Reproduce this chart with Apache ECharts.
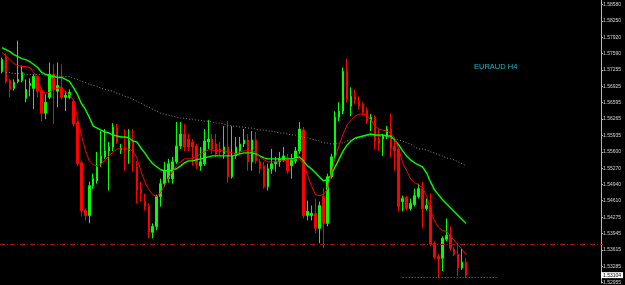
<!DOCTYPE html>
<html>
<head>
<meta charset="utf-8">
<script src="https://cdn.jsdelivr.net/npm/echarts@6.0.0/dist/echarts.min.js"></script>
<style>
html,body{margin:0;padding:0;background:#000;}
#chart{width:625px;height:285px;}
</style>
</head>
<body>
<div id="chart"></div>
<script>
// ---- data (EURAUD H4) ----
const symbolTitle = 'EURAUD H4';
const openP = [
1.57227,1.57528,1.57046,1.56885,1.57026,1.57046,1.56684,1.56945,1.56885,1.57126,
1.56845,1.56383,1.56704,1.57167,1.56825,1.56905,1.56704,1.56704,1.56624,1.56182,
1.55378,1.54413,1.54312,1.54915,1.55016,1.55358,1.55498,1.55619,1.55699,1.56081,
1.55639,1.55679,1.55619,1.55800,1.55297,1.54855,1.54594,1.54493,1.53971,1.54091,
1.54694,1.54956,1.55056,1.55056,1.55398,1.55719,1.55961,1.55860,1.55800,1.55719,
1.55317,1.55358,1.55800,1.55860,1.55760,1.55659,1.55559,1.55699,1.55096,1.55518,
1.55619,1.55760,1.55840,1.55398,1.55840,1.55398,1.55317,1.54895,1.55257,1.55358,
1.55398,1.55438,1.55478,1.55317,1.55418,1.55619,1.56041,1.54312,1.54312,1.54353,
1.54051,1.54694,1.54152,1.55096,1.55498,1.56302,1.56423,1.57227,1.56523,1.56724,
1.56624,1.56564,1.56443,1.56202,1.56302,1.55860,1.55860,1.55920,1.56061,1.55719,
1.55659,1.54594,1.54674,1.54453,1.54533,1.54694,1.54855,1.54453,1.54493,1.53750,
1.53488,1.53448,1.53830,1.53910,1.53629,1.53528,1.53247,1.53368];
const closeP = [
1.57468,1.57026,1.56865,1.57006,1.57066,1.57207,1.56865,1.56986,1.57126,1.56825,
1.56383,1.56604,1.57167,1.56865,1.56945,1.56704,1.56744,1.56805,1.56162,1.55358,
1.54413,1.54312,1.54915,1.55056,1.55297,1.55518,1.55619,1.55699,1.56101,1.55800,
1.55679,1.55639,1.55820,1.55559,1.54815,1.54755,1.54493,1.53971,1.54091,1.54694,
1.54956,1.55217,1.55358,1.55398,1.55719,1.55961,1.55699,1.55699,1.55699,1.55358,
1.55398,1.55820,1.55860,1.55659,1.55559,1.55599,1.55699,1.55096,1.55518,1.55699,
1.55760,1.55840,1.55398,1.55840,1.55418,1.55257,1.54895,1.55257,1.55358,1.55398,
1.55458,1.55518,1.55217,1.55458,1.55619,1.56061,1.54312,1.54393,1.54353,1.54051,
1.54513,1.54152,1.55096,1.55498,1.56302,1.56423,1.57227,1.56664,1.56724,1.56664,
1.56523,1.56403,1.56222,1.56302,1.55820,1.55760,1.55920,1.56061,1.55679,1.55619,
1.54493,1.54654,1.54453,1.54554,1.54714,1.54855,1.54453,1.54513,1.53729,1.53468,
1.53428,1.53850,1.53910,1.53649,1.53528,1.53247,1.53368,1.53104];
const highP = [
1.57508,1.57589,1.57066,1.57066,1.57850,1.57347,1.57066,1.57086,1.57167,1.57146,
1.56885,1.56765,1.57408,1.57368,1.57408,1.57368,1.56825,1.56865,1.56664,1.56222,
1.55418,1.54453,1.54996,1.55157,1.55599,1.56021,1.56061,1.55800,1.56182,1.56162,
1.55760,1.56061,1.56061,1.56061,1.55418,1.54996,1.54755,1.54554,1.54152,1.54734,
1.55056,1.55398,1.55458,1.55498,1.56202,1.56202,1.56162,1.55961,1.55860,1.55760,
1.55699,1.56061,1.56242,1.55961,1.55961,1.55800,1.56121,1.56222,1.56121,1.55900,
1.55900,1.56061,1.55961,1.56021,1.56001,1.55458,1.55398,1.55358,1.55659,1.55498,
1.55599,1.55699,1.55559,1.55559,1.55699,1.56202,1.56101,1.54614,1.54513,1.54654,
1.54594,1.54875,1.55157,1.55559,1.56423,1.56604,1.57307,1.57488,1.56905,1.56865,
1.56724,1.56604,1.56503,1.56363,1.56342,1.56061,1.55961,1.56121,1.56383,1.55860,
1.55699,1.54714,1.54714,1.54654,1.54855,1.54956,1.54996,1.54654,1.54755,1.53790,
1.53528,1.53890,1.54252,1.54091,1.53669,1.53750,1.53649,1.53448];
const lowP = [
1.57187,1.56986,1.56704,1.56845,1.56986,1.57006,1.56604,1.56724,1.56463,1.56704,
1.56222,1.56262,1.56664,1.56162,1.56503,1.56664,1.56423,1.56664,1.56121,1.55317,
1.54292,1.54212,1.54152,1.54855,1.54956,1.55297,1.55458,1.54815,1.55619,1.55760,
1.55559,1.55217,1.55358,1.55197,1.54554,1.54594,1.54413,1.53850,1.53850,1.54011,
1.54493,1.54895,1.54976,1.54956,1.55358,1.55659,1.55619,1.55619,1.55317,1.55257,
1.55217,1.55317,1.55659,1.55559,1.55498,1.55518,1.55458,1.54976,1.55056,1.55458,
1.55559,1.55699,1.55217,1.55217,1.55358,1.55157,1.54855,1.54815,1.55157,1.55197,
1.55297,1.55398,1.55157,1.55056,1.55358,1.55559,1.54252,1.54212,1.54212,1.53951,
1.53750,1.53649,1.54091,1.55056,1.55458,1.56222,1.56363,1.56604,1.56322,1.56564,
1.56463,1.56342,1.56162,1.56021,1.55659,1.55619,1.55518,1.55860,1.55498,1.55217,
1.54393,1.54393,1.54413,1.54413,1.54493,1.54654,1.54051,1.54413,1.53689,1.53428,
1.53046,1.53187,1.53790,1.53609,1.53488,1.53086,1.53207,1.53046];
const maFast = [
1.57609,1.57548,1.57468,1.57388,1.57347,1.57327,1.57327,1.57307,1.57207,1.57066,
1.56845,1.56785,1.56805,1.56865,1.56885,1.56905,1.56805,1.56765,1.56644,1.56302,
1.55940,1.55639,1.55418,1.55337,1.55317,1.55358,1.55438,1.55518,1.55599,1.55659,
1.55659,1.55659,1.55659,1.55619,1.55478,1.55217,1.54996,1.54835,1.54734,1.54694,
1.54775,1.54915,1.55076,1.55197,1.55317,1.55398,1.55458,1.55458,1.55478,1.55498,
1.55559,1.55599,1.55639,1.55639,1.55619,1.55619,1.55619,1.55599,1.55579,1.55559,
1.55599,1.55619,1.55619,1.55619,1.55599,1.55498,1.55438,1.55398,1.55398,1.55398,
1.55418,1.55418,1.55438,1.55438,1.55458,1.55458,1.55358,1.55136,1.54915,1.54734,
1.54714,1.54734,1.54835,1.55157,1.55478,1.55739,1.55961,1.56141,1.56242,1.56322,
1.56363,1.56363,1.56342,1.56242,1.56121,1.56061,1.56041,1.56021,1.55981,1.55880,
1.55659,1.55378,1.55217,1.55056,1.54976,1.54935,1.54875,1.54714,1.54413,1.54212,
1.54071,1.54011,1.53991,1.53910,1.53810,1.53709,1.53629,1.53508];
const maMid = [
1.57709,1.57669,1.57629,1.57569,1.57528,1.57488,1.57468,1.57428,1.57368,1.57307,
1.57207,1.57167,1.57146,1.57126,1.57106,1.57106,1.57066,1.57026,1.56905,1.56765,
1.56584,1.56463,1.56302,1.56121,1.56081,1.56041,1.56001,1.55981,1.55940,1.55920,
1.55900,1.55900,1.55880,1.55820,1.55800,1.55679,1.55579,1.55458,1.55358,1.55297,
1.55237,1.55217,1.55217,1.55237,1.55257,1.55317,1.55378,1.55418,1.55418,1.55438,
1.55458,1.55478,1.55498,1.55518,1.55518,1.55518,1.55518,1.55518,1.55518,1.55538,
1.55559,1.55579,1.55579,1.55579,1.55559,1.55518,1.55478,1.55458,1.55458,1.55458,
1.55458,1.55458,1.55458,1.55458,1.55478,1.55498,1.55418,1.55317,1.55257,1.55177,
1.55096,1.55016,1.55036,1.55136,1.55297,1.55458,1.55619,1.55739,1.55820,1.55880,
1.55900,1.55920,1.55940,1.55961,1.55940,1.55940,1.55940,1.55920,1.55920,1.55840,
1.55739,1.55619,1.55518,1.55438,1.55378,1.55337,1.55297,1.55177,1.54996,1.54835,
1.54734,1.54634,1.54554,1.54473,1.54393,1.54312,1.54232,1.54152];
const maSlow = [
null,1.57207,1.57207,1.57187,1.57187,1.57187,1.57167,1.57167,1.57167,1.57167,
1.57167,1.57146,1.57146,1.57146,1.57146,1.57126,1.57126,1.57126,1.57086,1.57066,
1.57026,1.57006,1.56966,1.56945,1.56925,1.56885,1.56865,1.56845,1.56825,1.56785,
1.56765,1.56724,1.56704,1.56664,1.56624,1.56584,1.56543,1.56503,1.56463,1.56423,
1.56383,1.56363,1.56342,1.56322,1.56302,1.56282,1.56282,1.56262,1.56262,1.56242,
1.56242,1.56222,1.56222,1.56202,1.56182,1.56182,1.56162,1.56141,1.56121,1.56121,
1.56101,1.56101,1.56081,1.56081,1.56061,1.56041,1.56041,1.56021,1.56021,1.56001,
1.55981,1.55981,1.55961,1.55940,1.55940,1.55920,1.55900,1.55880,1.55860,1.55840,
1.55820,1.55780,1.55780,1.55760,1.55760,1.55780,1.55780,1.55820,1.55840,1.55860,
1.55880,1.55900,1.55920,1.55920,1.55920,1.55920,1.55900,1.55900,1.55880,1.55860,
1.55840,1.55820,1.55780,1.55760,1.55699,1.55659,1.55659,1.55639,1.55599,1.55579,
1.55538,1.55518,1.55478,1.55458,1.55438,1.55398,1.55358,1.55317];
const priceTicks = [1.58580,1.58250,1.57920,1.57590,1.57255,1.56925,1.56595,1.56265,1.55935,
  1.55600,1.55270,1.54940,1.54610,1.54275,1.53945,1.53615,1.53285,1.52955];
const levelPrice = 1.53732;   // dash-dot horizontal level
const lastPrice = 1.53104;    // current price box
const bidPrice = 1.53066;     // short dotted line
const bidFrom = 101, bidTo = 125;
const yMax = 1.58674, yMin = 1.529455;
const slotCount = 152;        // candle slots incl. right shift

// ---- chart ----
const slots = Array.from({length: slotCount}, (_, i) => i);
const candles = openP.map((o, i) => [o, closeP[i], lowP[i], highP[i]]);

const chart = echarts.init(document.getElementById('chart'), null, {renderer: 'canvas'});
chart.setOption({
  animation: false,
  backgroundColor: '#000000',
  title: {
    text: symbolTitle, left: 474, top: 63, padding: 0,
    textStyle: {color: '#20b4c4', fontSize: 7.5, fontWeight: 'normal', fontFamily: 'Liberation Sans'}
  },
  grid: {left: -2.69, right: 22, top: 0, bottom: 0, containLabel: false},
  xAxis: {type: 'category', data: slots, show: false, boundaryGap: true},
  yAxis: {
    type: 'value', position: 'right', offset: -2, min: yMin, max: yMax, scale: true,
    splitLine: {show: false},
    axisLine: {show: true, lineStyle: {color: '#b4b4b4', width: 1}},
    axisTick: {show: true, length: 2, customValues: priceTicks, lineStyle: {color: '#b4b4b4'}},
    axisLabel: {
      customValues: priceTicks, formatter: v => v.toFixed(5), color: '#d4d4d4',
      fontSize: 5, margin: 2, fontFamily: 'Liberation Sans'
    }
  },
  series: [
    {
      type: 'candlestick', data: candles, barWidth: 2,
      itemStyle: {color: '#00ff00', color0: '#ff0000', borderColor: '#00ff00', borderColor0: '#ff0000', borderWidth: 1},
      markLine: {
        silent: true, symbol: 'none', animation: false, precision: 5,
        data: [
          {yAxis: levelPrice, lineStyle: {color: '#a81010', type: [5, 2, 1, 2], width: 1}, label: {show: false}},
          {yAxis: lastPrice, lineStyle: {color: 'rgba(0,0,0,0)', width: 0}, label: {
            show: true, position: 'end', distance: 0, offset: [-2, 0],
            formatter: lastPrice.toFixed(5), backgroundColor: '#ffffff', color: '#000000',
            fontSize: 5, padding: [1, 2, 0, 2], fontFamily: 'Liberation Sans'
          }},
          [
            {coord: [bidFrom, bidPrice], lineStyle: {color: '#1a9aa4', type: [1, 2], width: 1}, label: {show: false}},
            {coord: [bidTo, bidPrice]}
          ]
        ]
      }
    },
    {type: 'line', data: maSlow, symbol: 'none', lineStyle: {color: '#8c8c8c', width: 1, type: [1, 2]}, z: 3},
    {type: 'line', data: maMid, symbol: 'none', lineStyle: {color: '#00ff00', width: 1.4}, z: 4},
    {type: 'line', data: maFast, symbol: 'none', lineStyle: {color: '#ff0000', width: 1}, z: 5}
  ]
});
</script>
</body>
</html>
